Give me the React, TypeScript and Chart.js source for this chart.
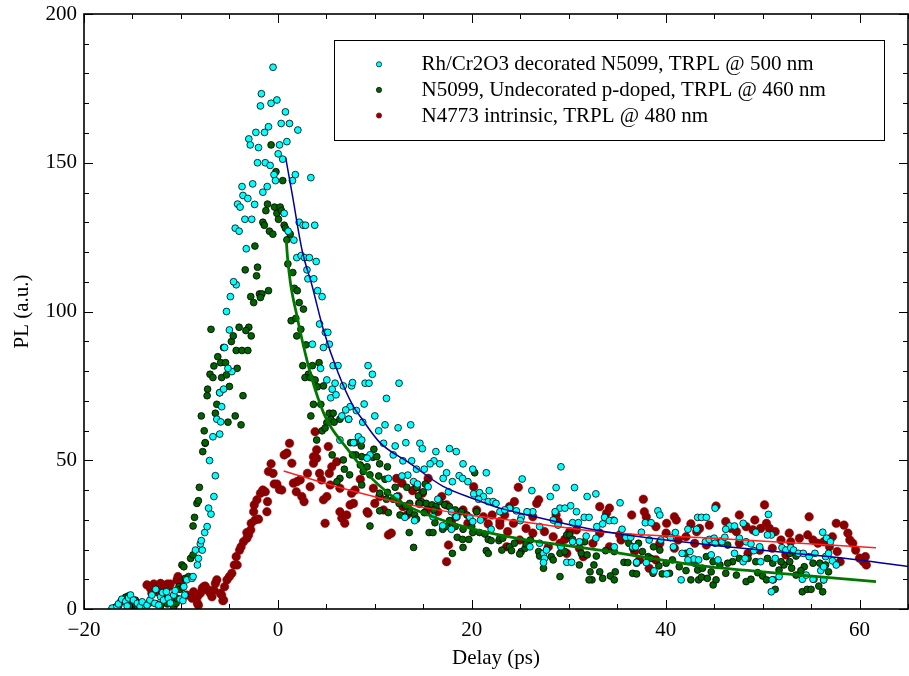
import { useEffect, useRef } from "react";
import { Chart, registerables } from "chart.js";

Chart.register(...registerables);

type Pt = [number, number];

// Axis ranges and tick labels
const xRange = [-20, 65];
const yRange = [0, 200];
const xTicks = [-20, 0, 20, 40, 60];
const yTicks = [0, 50, 100, 150, 200];
const xMinorStep = 5;
const yMinorStep = 10;

const xTitle = "Delay (ps)";
const yTitle = "PL (a.u.)";

const seriesLabels = [
  "Rh/Cr2O3 decorated N5099, TRPL @ 500 nm",
  "N5099, Undecorated p-doped, TRPL @ 460 nm",
  "N4773 intrinsic, TRPL @ 480 nm",
];

// ---- Rh/Cr2O3 decorated N5099, [delay (ps), PL (a.u.)] ----
const decoratedBaseline: Pt[] = [
  [-17.1, 0.3], [-16.6, 0.8], [-16.45, 1.7], [-16.1, 3.3], [-15.7, 2.5], [-15.55, 1.0],
  [-15.4, 3.7], [-15.2, 4.7], [-14.9, 3.0], [-14.5, 1.9], [-14.2, 0.8], [-14.0, 2.4],
  [-13.6, 0.6], [-13.5, 1.3], [-13.2, 3.0], [-13.0, 4.7], [-12.7, 1.9], [-12.6, 6.6],
  [-12.3, 1.3], [-12.1, 4.1], [-11.9, 5.5], [-11.8, 3.0], [-11.5, 5.8], [-11.3, 3.6],
  [-11.1, 2.0], [-10.75, 4.7], [-10.6, 6.2], [-10.1, 3.3], [-9.8, 2.8], [-9.6, 4.7],
];
const decoratedRise: Pt[] = [
  [-9.7, 7.5], [-9.4, 9.8], [-8.85, 10.3], [-8.75, 10.9], [-8.3, 14.8], [-8.2, 17.0],
  [-8.5, 19.8], [-7.8, 19.8], [-8.0, 21.9], [-7.9, 23.0], [-7.55, 25.7], [-7.3, 27.7],
  [-6.9, 31.9], [-7.15, 33.9], [-6.6, 37.8], [-6.45, 44.8], [-7.05, 49.9], [-6.7, 57.9],
  [-6.0, 58.8], [-6.3, 63.8], [-5.9, 62.9], [-5.8, 68.0], [-6.0, 72.7], [-5.6, 73.9],
  [-4.75, 79.8], [-5.15, 80.9], [-5.5, 87.9], [-5.0, 93.8], [-5.3, 100.0], [-4.9, 105.0],
  [-4.3, 109.0], [-4.57, 110.0],
];
const decoratedPeak: Pt[] = [
  [-0.5, 182.1], [-1.7, 173.2], [-1.8, 169.1], [-0.7, 170.0], [-0.1, 171.1], [0.78, 167.1],
  [0.34, 163.2], [1.2, 163.2], [-0.97, 162.1], [-1.38, 160.2], [-2.27, 160.2], [2.06, 161.0],
  [-3.0, 158.0], [-2.85, 156.0], [-2.0, 155.1], [0.17, 156.0], [0.93, 157.1], [0.03, 153.0],
  [0.5, 151.2], [-2.1, 150.0], [-1.3, 150.0], [-0.8, 149.1], [1.8, 146.0], [3.4, 145.0],
  [-0.4, 146.0], [-0.25, 144.0], [1.5, 144.0], [-3.7, 142.0], [-2.6, 142.9], [-1.1, 142.0],
  [-1.55, 140.1], [-3.6, 139.0], [-3.1, 138.0], [-4.16, 136.1], [-3.9, 135.1], [-2.4, 136.0],
  [0.65, 133.0], [-3.4, 131.0], [-2.7, 131.0], [-4.4, 128.0], [-4.0, 127.0], [2.2, 130.0],
  [2.6, 129.0], [2.85, 129.0], [3.8, 129.0], [1.06, 127.0], [1.65, 124.0], [-3.26, 121.1],
];
const decoratedDecay: Pt[] = [
  [1.95, 118.1], [2.4, 118.8], [2.75, 118.1], [3.25, 118.1], [3.95, 116.8], [3.0, 114.0],
  [3.1, 111.0], [3.7, 111.0], [4.1, 107.0], [4.56, 105.0], [4.3, 95.8], [4.9, 93.0],
  [5.15, 93.0], [4.7, 87.9], [5.3, 89.0], [3.56, 89.0], [4.4, 80.9], [5.7, 81.8],
  [6.2, 81.8], [5.05, 77.0], [5.6, 73.9], [5.9, 75.9], [5.45, 71.0], [6.0, 72.0],
  [6.75, 75.0], [7.6, 75.0], [7.7, 76.1], [9.3, 81.8], [9.75, 78.9], [9.0, 75.9],
  [9.4, 75.9], [7.45, 68.0], [7.0, 66.9], [6.6, 64.9], [7.3, 63.8], [8.1, 66.7],
  [8.9, 68.9], [8.75, 62.8], [10.0, 64.9], [10.4, 59.9], [6.4, 56.8], [8.3, 57.9],
  [8.65, 56.8], [7.8, 55.9],
  [12.5, 75.9], [11.2, 70.8], [12.4, 60.9], [13.7, 61.9], [11.05, 61.9], [10.9, 55.7],
  [12.1, 54.8], [13.2, 55.9], [14.65, 55.7], [14.9, 53.9], [16.3, 52.9], [17.7, 53.9],
  [18.4, 52.9], [9.5, 51.8], [9.2, 50.7], [11.9, 51.8], [12.9, 49.8], [13.8, 49.8],
  [16.1, 49.8], [15.7, 48.8], [16.7, 48.8], [19.1, 48.8], [14.3, 47.0], [15.1, 47.0],
  [20.1, 47.0], [21.5, 45.8], [18.7, 44.8], [17.4, 45.8], [17.05, 43.9], [18.0, 42.8],
  [19.05, 43.9], [19.6, 42.8], [13.4, 45.0], [14.0, 42.8], [14.4, 42.0], [12.8, 44.7],
  [11.4, 43.9], [15.5, 41.1], [16.5, 36.9], [17.6, 39.4], [20.2, 38.7], [20.8, 39.1],
  [21.2, 37.8], [21.8, 39.8], [20.7, 36.9], [21.7, 36.1], [22.2, 36.1], [22.5, 35.5],
  [22.9, 32.7], [12.25, 37.8], [13.1, 30.8], [14.1, 29.7], [17.9, 32.7], [18.4, 31.0],
  [19.8, 30.8], [20.1, 29.4], [20.9, 29.9], [22.0, 26.8], [17.0, 28.0], [16.0, 31.0],
  [17.9, 26.8],
];
const decoratedTail: Pt[] = [
  [25.2, 43.7], [26.2, 39.8], [29.2, 47.8], [28.7, 40.8], [28.1, 37.8], [30.6, 40.8],
  [31.9, 37.8], [32.8, 38.7], [35.3, 35.7], [30.2, 34.7], [29.1, 33.9], [29.6, 33.9],
  [28.6, 32.7], [30.8, 32.7], [26.3, 32.7], [25.7, 32.7], [24.6, 33.0], [23.9, 33.9],
  [23.4, 33.3], [31.6, 30.8], [32.1, 30.8], [33.7, 30.8], [34.6, 29.9], [39.2, 33.0],
  [39.4, 31.6], [43.3, 30.8], [25.1, 30.8], [25.0, 29.7], [27.0, 27.7], [28.4, 29.9],
  [28.9, 28.2], [30.4, 29.0], [31.0, 29.0], [32.9, 27.7], [33.5, 28.6], [34.2, 29.7],
  [34.7, 29.7], [35.5, 26.8], [35.9, 24.1], [36.4, 24.1], [37.5, 25.8], [37.9, 29.0],
  [38.5, 29.0], [40.5, 24.0], [41.0, 25.7], [42.3, 26.8], [43.2, 26.8], [39.5, 23.2],
  [38.3, 23.2], [36.6, 20.9], [36.9, 20.9], [34.7, 20.9], [32.8, 23.8], [31.8, 24.5],
  [31.1, 22.6], [30.4, 22.6], [27.4, 18.7], [27.7, 19.8], [27.5, 17.0], [27.4, 15.6],
  [26.0, 20.9], [27.0, 22.1], [29.2, 20.9], [29.8, 15.7], [30.3, 15.7], [37.0, 15.7],
  [38.0, 15.6], [38.8, 12.8], [40.1, 11.8], [41.6, 9.8], [40.8, 20.9], [41.7, 18.7],
  [42.5, 19.3], [42.9, 16.8], [42.3, 16.5], [43.4, 16.5],
  [43.7, 30.8], [44.2, 30.8], [45.1, 33.9], [48.0, 28.8], [50.6, 31.8], [46.6, 27.9],
  [47.1, 27.9], [46.2, 26.8], [49.3, 25.8], [50.9, 24.9], [50.5, 24.9], [56.2, 25.8],
  [56.6, 23.8], [57.0, 22.6], [44.1, 22.6], [44.5, 23.4], [45.0, 23.8], [45.1, 22.1],
  [45.8, 22.6], [46.1, 24.1], [47.6, 23.8], [48.3, 22.6], [48.8, 21.9], [49.7, 20.9],
  [49.1, 19.6], [52.0, 20.6], [52.4, 19.8], [52.9, 20.6], [53.2, 19.8], [53.7, 18.7],
  [54.2, 18.7], [54.8, 17.6], [55.4, 18.7], [56.5, 17.6], [56.8, 18.7], [57.2, 16.2],
  [57.6, 14.8], [56.0, 12.9], [56.3, 14.2], [44.7, 18.2], [45.4, 16.5], [47.1, 18.7],
  [48.0, 15.9], [48.2, 17.0], [49.8, 15.9], [51.0, 9.8], [50.9, 5.8], [51.7, 10.9],
  [54.1, 10.0], [54.5, 11.4], [55.2, 10.0], [56.3, 9.8], [51.3, 17.0],
];

// ---- N5099 undecorated p-doped ----
const undecoratedBaseline: Pt[] = [
  [-17.1, 0.0], [-16.75, 0.6], [-16.4, 1.3], [-16.2, 2.5], [-15.9, 3.0], [-15.7, 4.0],
  [-15.55, 1.9], [-15.4, 4.4], [-15.0, 0.8], [-14.7, 3.0], [-14.5, 0.6], [-14.2, 1.7],
  [-13.8, 1.3], [-13.3, 1.9], [-12.5, 1.7], [-12.1, 1.0], [-11.4, 1.7], [-11.1, 3.0],
  [-10.75, 0.6], [-10.9, 2.5], [-10.5, 1.9], [-10.4, 3.6],
];
const undecoratedRise: Pt[] = [
  [-10.2, 7.5], [-10.1, 6.6], [-9.8, 7.3], [-9.55, 10.3], [-9.2, 10.9], [-9.0, 17.0],
  [-8.75, 18.2], [-9.9, 14.8], [-9.7, 14.2], [-8.75, 27.9], [-8.6, 30.8], [-8.35, 35.5],
  [-8.2, 36.4], [-8.1, 40.9], [-7.75, 52.9], [-7.5, 55.7], [-7.5, 55.9], [-7.6, 59.9],
  [-7.9, 64.9], [-5.15, 62.8], [-4.4, 64.9], [-3.8, 61.9], [-6.3, 68.8], [-6.45, 65.8],
  [-7.25, 73.9], [-7.3, 71.7], [-6.0, 72.7], [-3.6, 71.7], [-5.0, 74.8], [-7.0, 78.9],
  [-6.7, 77.8], [-5.8, 77.8], [-5.3, 78.7], [-4.2, 80.9], [-6.6, 81.7], [-6.2, 84.8],
  [-5.9, 82.8], [-5.4, 82.8], [-5.6, 87.9], [-4.3, 86.9], [-3.7, 86.9], [-3.1, 86.9],
  [-4.8, 89.9], [-4.6, 91.8], [-2.75, 91.8], [-6.9, 94.0], [-4.0, 94.7], [-3.0, 94.7],
  [-3.3, 93.6], [-2.8, 105.0], [-2.5, 103.0], [-1.9, 105.9], [-1.65, 105.9], [-1.8, 104.7],
  [-0.97, 107.0], [-3.37, 114.0], [-2.1, 114.9], [-2.2, 112.0],
];
const undecoratedPeak: Pt[] = [
  [-0.7, 156.0], [-0.2, 147.0], [0.5, 144.0], [-1.07, 136.1], [-1.24, 133.9], [-0.35, 135.1],
  [0.24, 135.1], [-0.1, 133.0], [0.37, 133.9], [0.06, 131.0], [-1.55, 130.0], [-1.4, 129.0],
  [0.65, 129.0], [0.78, 128.0], [-0.87, 127.0], [-0.52, 126.0], [1.27, 126.0], [0.93, 124.1],
  [-2.37, 122.0],
];
const undecoratedDecay: Pt[] = [
  [1.03, 116.0], [1.54, 113.1], [1.7, 107.8], [2.0, 107.0], [2.2, 103.0], [2.64, 100.8],
  [1.37, 96.9], [1.85, 97.7], [2.37, 94.0], [1.95, 91.8], [2.9, 88.8], [4.25, 82.8],
  [2.57, 81.8], [3.56, 81.8], [3.15, 78.9], [2.8, 77.8], [3.33, 77.8], [3.84, 77.0],
  [4.08, 74.7], [4.7, 75.0], [3.67, 68.8], [4.43, 68.8], [3.4, 64.9], [5.3, 65.8],
  [5.7, 65.8], [5.05, 62.6], [5.45, 63.8], [5.8, 62.8], [6.4, 63.8], [7.3, 63.8],
  [4.56, 59.9], [4.87, 60.8], [4.0, 56.8], [7.5, 55.9], [7.95, 55.9], [8.6, 54.8],
  [9.9, 53.7],
  [5.6, 51.8], [8.05, 51.8], [8.65, 51.2], [9.2, 50.9], [9.8, 51.0], [10.2, 51.2],
  [6.75, 50.1], [7.7, 51.8], [8.5, 48.4], [9.2, 47.8], [10.5, 48.8], [11.3, 47.8],
  [6.86, 47.0], [7.4, 45.1], [6.4, 43.9], [6.1, 42.8], [8.8, 46.2], [8.65, 41.7],
  [9.5, 45.1], [10.4, 44.7], [11.05, 43.6], [12.1, 40.9], [13.3, 40.9], [14.3, 40.9],
  [15.2, 42.0], [11.3, 39.2], [10.5, 38.9], [11.2, 36.9], [11.9, 36.9], [12.5, 35.5],
  [13.2, 34.6], [13.6, 35.5], [14.5, 38.0], [14.8, 36.1], [15.0, 39.4], [15.3, 35.5],
  [15.9, 35.0], [16.3, 34.4], [16.7, 36.1], [17.2, 35.0], [17.7, 34.4], [18.3, 33.3],
  [18.95, 32.7], [19.5, 31.6], [10.5, 33.0], [11.4, 32.4], [12.6, 31.6], [13.6, 32.7],
  [14.1, 31.6], [14.3, 30.2], [15.1, 32.4], [16.2, 29.0], [17.0, 26.8], [15.6, 25.7],
  [16.0, 25.7], [18.5, 24.1], [19.05, 23.4], [19.7, 23.4], [17.7, 29.7], [18.3, 27.7],
  [20.1, 25.7], [20.8, 25.7], [21.35, 25.2], [21.7, 23.4], [22.0, 23.0], [22.8, 23.0],
  [9.5, 27.9], [13.55, 25.7], [14.0, 20.7], [18.0, 18.7], [19.1, 20.7], [21.5, 19.6],
  [21.7, 18.7], [20.5, 32.7], [20.0, 27.7], [19.1, 26.8], [17.4, 27.7], [16.1, 33.3],
  [14.6, 35.5], [20.3, 45.8],
];
const undecoratedTail: Pt[] = [
  [22.9, 23.8], [23.2, 23.8], [23.9, 20.9], [24.4, 22.1], [23.1, 19.8], [24.1, 19.6],
  [25.1, 19.3], [24.95, 18.5], [25.5, 20.4], [25.6, 21.9], [26.05, 23.2], [26.9, 19.3],
  [27.0, 17.8], [27.4, 13.7], [28.2, 17.6], [28.4, 16.5], [29.1, 18.7], [29.25, 20.9],
  [29.8, 24.9], [30.1, 24.9], [30.4, 23.4], [31.1, 14.8], [29.6, 19.3], [31.3, 18.7],
  [31.9, 18.2], [31.65, 22.6], [32.85, 17.8], [32.6, 14.8], [32.2, 12.5], [32.4, 9.8],
  [33.2, 12.5], [33.5, 10.3], [34.8, 12.5], [34.3, 11.1], [33.8, 19.6], [34.7, 19.3],
  [35.7, 15.7], [36.1, 15.6], [36.6, 12.0], [37.0, 11.8], [36.2, 22.1], [36.6, 20.4],
  [37.2, 22.1], [38.2, 17.6], [38.5, 17.0], [39.3, 14.5], [38.7, 12.0], [39.65, 11.8],
  [40.4, 12.0], [41.4, 14.2], [42.1, 12.9], [42.6, 9.8], [40.05, 15.4], [40.7, 16.5],
  [29.1, 10.9], [32.1, 9.8], [34.7, 9.8], [37.0, 15.4], [37.6, 19.3], [38.75, 20.9],
  [39.4, 19.8], [42.05, 18.7], [43.0, 15.4], [43.3, 13.1], [43.4, 9.8],
  [43.7, 10.7], [44.3, 10.3], [44.9, 8.1], [45.2, 9.8], [43.8, 13.7], [44.7, 12.5],
  [45.6, 14.8], [46.2, 12.0], [47.3, 11.4], [48.3, 9.2], [48.8, 10.0], [49.5, 12.2],
  [50.0, 11.1], [50.4, 9.8], [51.1, 9.8], [51.3, 6.6], [51.7, 13.1], [52.2, 14.8],
  [52.8, 15.9], [53.0, 13.7], [53.45, 11.4], [54.1, 5.8], [54.6, 6.6], [55.0, 6.6],
  [55.3, 10.0], [55.8, 7.7], [56.2, 5.8], [56.3, 9.8], [56.8, 12.5], [56.5, 14.8],
  [55.9, 15.4], [55.2, 15.4], [54.3, 14.2], [53.95, 12.9], [51.9, 15.9], [51.05, 15.4],
  [50.5, 17.0], [49.3, 15.9], [48.5, 17.0], [47.6, 17.0], [46.9, 15.9], [46.4, 15.4],
  [44.9, 15.9], [44.2, 17.6], [52.8, 18.7], [53.45, 17.8], [46.4, 21.5],
];

// ---- N4773 intrinsic ----
const intrinsicRise: Pt[] = [
  [-13.5, 8.1], [-13.15, 7.0], [-13.0, 5.3], [-12.8, 8.4], [-12.5, 5.8], [-12.1, 8.6],
  [-11.8, 5.3], [-11.8, 7.0], [-11.4, 8.4], [-11.3, 7.5], [-11.1, 8.4], [-10.75, 4.1],
  [-10.4, 9.8], [-10.3, 10.9], [-10.06, 8.8], [-10.06, 8.1], [-9.4, 4.7], [-8.85, 3.6],
  [-8.7, 5.8], [-8.3, 4.1], [-8.3, 1.9], [-8.2, 1.3], [-8.0, 5.3], [-7.8, 7.0],
  [-7.65, 7.5], [-7.5, 7.7], [-7.3, 6.4], [-7.15, 6.4], [-6.97, 5.3], [-6.8, 4.1],
  [-6.6, 6.4], [-6.45, 8.6], [-6.3, 9.8], [-5.94, 5.3], [-5.8, 4.7], [-5.67, 2.8],
  [-5.6, 3.0], [-5.5, 7.5], [-5.25, 9.8], [-5.0, 10.9], [-4.75, 12.0], [-4.5, 14.8],
  [-4.2, 14.8], [-4.3, 17.6], [-3.95, 19.8], [-3.8, 20.9], [-3.55, 22.6], [-3.2, 23.8],
  [-3.03, 24.9], [-2.8, 26.6], [-3.2, 25.7], [-2.75, 28.8], [-2.35, 29.9], [-2.0, 30.2],
  [-2.44, 35.0], [-2.16, 36.7], [-2.5, 32.7], [-1.8, 38.9], [-1.55, 40.0], [-1.3, 39.4],
  [-1.07, 36.1], [-1.13, 32.7],
];
const intrinsicPeak: Pt[] = [
  [-0.7, 48.8], [-0.97, 46.2], [-0.5, 45.6], [-0.38, 42.0], [-0.1, 42.0], [0.16, 40.2],
  [0.4, 40.0], [0.65, 51.8], [0.93, 52.4], [1.2, 55.7], [1.44, 49.0], [1.6, 42.3],
  [1.9, 39.4], [1.96, 42.8], [2.3, 43.4], [2.7, 36.1], [2.47, 37.8], [3.05, 45.6],
  [3.33, 41.1], [3.67, 49.0], [4.0, 50.7], [4.3, 45.6], [4.5, 43.4], [4.87, 28.8],
  [4.7, 36.7], [5.05, 37.8], [5.3, 45.6], [5.2, 54.6], [3.67, 51.2], [4.0, 53.5],
  [3.84, 59.6],
];
const intrinsicDecay: Pt[] = [
  [6.07, 49.5], [5.56, 47.8], [5.4, 41.7], [6.4, 40.6], [6.4, 32.7], [6.6, 30.5],
  [6.9, 28.8], [7.1, 31.6], [7.45, 35.0], [7.8, 35.5], [7.6, 38.9], [7.96, 40.0],
  [8.5, 43.6], [9.2, 32.7], [9.3, 32.2], [10.0, 35.5], [10.5, 37.8], [9.85, 40.6],
  [10.9, 33.3], [11.4, 24.9], [11.7, 25.5], [12.25, 43.9], [12.8, 42.3], [12.4, 37.8],
  [12.9, 34.4], [13.3, 31.6], [13.9, 39.8], [14.3, 41.1], [14.9, 38.9], [15.5, 43.9],
  [14.6, 35.5], [15.3, 32.7], [15.7, 34.4], [16.5, 32.7], [16.9, 37.8], [17.4, 35.0],
  [17.6, 21.5], [17.4, 15.9], [17.9, 29.4], [18.4, 31.0], [19.1, 33.3], [19.6, 28.8],
  [20.2, 41.1], [20.5, 33.3], [21.2, 31.0], [21.7, 28.6], [22.1, 31.6], [22.9, 29.4],
  [23.6, 20.9], [23.9, 34.4],
];
const intrinsicTail: Pt[] = [
  [24.8, 40.9], [24.4, 36.1], [26.7, 35.5], [26.9, 36.7], [26.3, 31.0], [28.7, 31.6],
  [28.9, 29.4], [30.1, 26.0], [30.8, 26.6], [33.2, 34.4], [33.9, 32.2], [34.2, 33.9],
  [36.5, 31.6], [37.7, 36.9], [37.8, 32.7], [38.0, 31.0], [39.0, 27.7], [40.1, 28.8],
  [40.9, 31.0], [41.1, 29.9], [42.6, 28.6], [43.2, 26.0], [29.1, 22.1], [29.6, 23.4],
  [28.4, 24.3], [26.3, 25.5], [24.95, 23.2], [23.7, 26.0], [22.9, 28.2], [33.2, 25.5],
  [32.5, 22.1], [34.2, 20.9], [35.25, 24.9], [35.4, 23.2], [36.8, 19.3], [37.3, 16.5],
  [38.3, 13.7], [39.0, 16.5], [39.4, 22.1], [40.9, 20.4], [41.3, 23.2], [40.05, 25.5],
  [42.1, 24.3], [43.0, 22.1], [31.5, 17.6], [31.1, 20.4], [29.8, 18.7], [27.9, 20.9],
  [27.5, 26.0], [25.6, 27.1], [24.3, 28.8], [23.4, 31.6],
  [43.5, 27.1], [44.5, 28.2], [45.2, 34.6], [46.2, 29.4], [46.75, 27.1], [47.3, 26.0],
  [48.3, 27.7], [49.0, 26.6], [49.8, 27.1], [50.2, 35.0], [50.4, 28.8], [50.7, 27.1],
  [51.3, 26.0], [51.9, 23.2], [52.9, 22.6], [53.8, 23.8], [54.8, 31.0], [54.65, 24.9],
  [55.2, 23.2], [55.7, 22.1], [56.9, 20.9], [57.7, 19.3], [58.4, 28.2], [58.8, 25.5],
  [59.3, 22.1], [59.6, 19.8], [60.4, 15.9], [60.6, 17.6], [58.0, 15.9], [57.2, 24.3],
  [56.3, 22.6], [52.4, 18.2], [51.0, 20.4], [49.7, 19.8], [48.5, 18.7], [47.6, 22.1],
  [45.7, 22.6], [44.2, 21.5], [47.6, 31.6], [49.2, 29.9], [52.75, 25.5], [59.0, 23.2],
  [60.0, 17.1], [60.7, 14.8], [57.6, 28.8],
];

// Fitted decay curves
const decoratedFit: Pt[] = [
  [0.8, 151.8], [1.5, 139.0], [2.5, 120.5], [3.5, 109.0], [4.7, 93.8], [6.2, 79.5],
  [7.8, 68.0], [8.5, 64.7], [10.5, 56.0], [13.6, 49.0], [17.0, 41.3], [20.5, 36.7],
  [22.9, 33.9], [25.0, 32.2], [33.2, 26.3], [43.5, 21.9], [60.0, 16.5], [65.0, 14.3],
];
const undecoratedFit: Pt[] = [
  [0.85, 124.7], [1.0, 118.0], [1.3, 109.5], [2.0, 98.0], [2.6, 89.0], [3.5, 77.5],
  [4.7, 66.0], [5.5, 61.0], [7.0, 54.5], [9.5, 44.5], [12.9, 35.5], [16.4, 30.5],
  [20.5, 26.6], [25.0, 23.6], [33.2, 19.8], [43.5, 14.6], [50.0, 12.5], [61.7, 9.2],
];
const intrinsicFit: Pt[] = [
  [0.6, 46.4], [6.1, 41.1], [12.9, 35.5], [19.8, 31.6], [25.0, 29.4], [33.2, 26.0],
  [43.5, 24.0], [61.7, 20.6],
];

const decoratedPoints = [...decoratedBaseline, ...decoratedRise, ...decoratedPeak, ...decoratedDecay, ...decoratedTail];
const undecoratedPoints = [...undecoratedBaseline, ...undecoratedRise, ...undecoratedPeak, ...undecoratedDecay, ...undecoratedTail];
const intrinsicPoints = [...intrinsicRise, ...intrinsicPeak, ...intrinsicDecay, ...intrinsicTail];

const toXY = (pts: Pt[]) => pts.map(([x, y]) => ({ x, y }));

const FONT = "'Liberation Serif', 'Times New Roman', serif";
const fmt = (v: number) => (v < 0 ? "\u2212" + Math.abs(v) : String(v));

const frameAndLegend = {
  id: "frameAndLegend",
  afterDraw(chart: any) {
    const { ctx, chartArea: a, scales } = chart;
    const xs = scales.x;
    const ys = scales.y;
    ctx.save();
    ctx.strokeStyle = "#000";
    ctx.lineWidth = 1;
    const seg = (x1: number, y1: number, x2: number, y2: number) => {
      ctx.beginPath();
      ctx.moveTo(x1, y1);
      ctx.lineTo(x2, y2);
      ctx.stroke();
    };
    // inward ticks on all four sides
    for (let v = xRange[0]; v <= xRange[1]; v += xMinorStep) {
      const px = Math.round(xs.getPixelForValue(v)) + 0.5;
      const len = xTicks.includes(v) ? 9 : 5;
      seg(px, a.bottom, px, a.bottom - len);
      seg(px, a.top, px, a.top + len);
    }
    for (let v = yRange[0]; v <= yRange[1]; v += yMinorStep) {
      const py = Math.round(ys.getPixelForValue(v)) + 0.5;
      const len = yTicks.includes(v) ? 9 : 5;
      seg(a.left, py, a.left + len, py);
      seg(a.right, py, a.right - len, py);
    }
    ctx.lineWidth = 1.6;
    ctx.strokeRect(a.left, a.top, a.right - a.left, a.bottom - a.top);

    // legend box
    const bx = 334.5, by = 40.5, bw = 550, bh = 100;
    ctx.fillStyle = "#fff";
    ctx.fillRect(bx, by, bw, bh);
    ctx.lineWidth = 1;
    ctx.strokeStyle = "#000";
    ctx.strokeRect(bx, by, bw, bh);
    ctx.font = `21px ${FONT}`;
    ctx.textAlign = "left";
    ctx.textBaseline = "alphabetic";
    for (let i = 0; i < 3; i++) {
      const ds = chart.data.datasets[i];
      const rowY = 64.3 + i * 25.6;
      ctx.beginPath();
      ctx.arc(379, rowY, 2.6, 0, Math.PI * 2);
      ctx.fillStyle = ds.backgroundColor;
      ctx.fill();
      ctx.lineWidth = 0.7;
      ctx.strokeStyle = ds.borderColor;
      ctx.stroke();
      ctx.fillStyle = "#000";
      ctx.fillText(ds.label, 421.5, rowY + 6);
    }
    ctx.restore();
  },
};

export default function App() {
  const ref = useRef<HTMLCanvasElement>(null);

  useEffect(() => {
    document.body.style.margin = "0";
    const canvas = ref.current;
    if (!canvas) return;
    const chart = new Chart(canvas, {
      type: "scatter",
      data: {
        datasets: [
          {
            label: seriesLabels[0],
            data: toXY(decoratedPoints),
            backgroundColor: "#00ffff",
            borderColor: "#000000",
            borderWidth: 0.8,
            pointRadius: 3.4,
            order: 1,
          },
          {
            label: seriesLabels[1],
            data: toXY(undecoratedPoints),
            backgroundColor: "#006400",
            borderColor: "#000000",
            borderWidth: 0.8,
            pointRadius: 3.4,
            order: 2,
          },
          {
            label: seriesLabels[2],
            data: toXY(intrinsicPoints),
            backgroundColor: "#8b0000",
            borderColor: "#8b0000",
            borderWidth: 0.5,
            pointRadius: 4.3,
            order: 3,
          },
          {
            label: "fit-decorated",
            data: toXY(decoratedFit),
            showLine: true,
            borderColor: "#00009a",
            borderWidth: 1.5,
            pointRadius: 0,
            cubicInterpolationMode: "monotone",
            order: 0,
          },
          {
            label: "fit-undecorated",
            data: toXY(undecoratedFit),
            showLine: true,
            borderColor: "#007800",
            borderWidth: 2.8,
            pointRadius: 0,
            cubicInterpolationMode: "monotone",
            order: 0,
          },
          {
            label: "fit-intrinsic",
            data: toXY(intrinsicFit),
            showLine: true,
            borderColor: "#ff2020",
            borderWidth: 1.5,
            pointRadius: 0,
            cubicInterpolationMode: "monotone",
            order: 0,
          },
        ],
      },
      options: {
        animation: false,
        responsive: false,
        devicePixelRatio: 1,
        layout: { autoPadding: false, padding: { top: 14, right: 1, left: 0, bottom: 0 } },
        plugins: { legend: { display: false }, tooltip: { enabled: false } },
        scales: {
          x: {
            type: "linear",
            min: xRange[0],
            max: xRange[1],
            afterBuildTicks: (s: any) => {
              s.ticks = xTicks.map((value) => ({ value }));
            },
            afterFit: (s: any) => {
              s.height = 67;
              s.paddingLeft = 0;
              s.paddingRight = 0;
            },
            grid: { display: false, drawTicks: false },
            border: { display: false },
            ticks: {
              autoSkip: false,
              maxRotation: 0,
              padding: 9,
              color: "#000",
              font: { family: FONT, size: 21 },
              callback: (v: any) => fmt(Number(v)),
            },
            title: {
              display: true,
              text: xTitle,
              color: "#000",
              font: { family: FONT, size: 21 },
              padding: { top: 0, bottom: 5 },
            },
          },
          y: {
            type: "linear",
            min: yRange[0],
            max: yRange[1],
            afterBuildTicks: (s: any) => {
              s.ticks = yTicks.map((value) => ({ value }));
            },
            afterFit: (s: any) => {
              s.width = 84;
              s.paddingTop = 0;
              s.paddingBottom = 0;
            },
            grid: { display: false, drawTicks: false },
            border: { display: false },
            ticks: {
              autoSkip: false,
              padding: 7,
              color: "#000",
              font: { family: FONT, size: 21 },
              callback: (v: any) => fmt(Number(v)),
            },
            title: {
              display: true,
              text: yTitle,
              color: "#000",
              font: { family: FONT, size: 21 },
              padding: { top: 10, bottom: 0 },
            },
          },
        },
      },
      plugins: [frameAndLegend],
    });
    return () => chart.destroy();
  }, []);

  return (
    <div style={{ width: 909, height: 676, background: "#fff" }}>
      <canvas ref={ref} width={909} height={676} style={{ display: "block" }} />
    </div>
  );
}
